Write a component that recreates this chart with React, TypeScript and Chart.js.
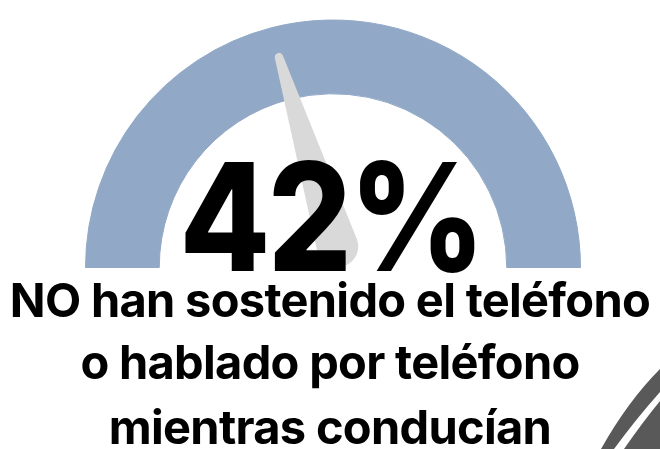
import React, { useEffect, useRef } from "react";
import { Chart, registerables } from "chart.js";

Chart.register(...registerables);

// ---- data ----
const gaugeLabels: string[] = ["NO han sostenido el teléfono", "Resto"];
const gaugeValues: number[] = [42, 58];
const headline = "42%";
const captionLines: string[] = [
  "NO han sostenido el teléfono",
  "o hablado por teléfono",
  "mientras conducían",
];

const GAUGE_COLOR = "#91A8C6";
const NEEDLE_COLOR = "#D9D9D9";
const ROAD_COLOR = "#595959";

const needlePlugin = {
  id: "gaugeNeedle",
  afterDatasetsDraw(chart: any) {
    const meta = chart.getDatasetMeta(0);
    const arc = meta.data[0];
    if (!arc) return;
    const { x: cx, y: cy, outerRadius: R } = arc.getProps(["x", "y", "outerRadius"], true);
    const data: number[] = chart.data.datasets[0].data;
    const total = data.reduce((a, b) => a + b, 0);
    const frac = data[0] / total;
    const angle = Math.PI + frac * Math.PI;
    const tipLen = 0.878 * R;
    const tx = cx + Math.cos(angle) * tipLen;
    const ty = cy + Math.sin(angle) * tipLen;
    const bx = cx + 0.018 * R;
    const by = cy - 0.085 * R;
    const br = 0.084 * R;
    const tr = 0.017 * R;
    const dx = tx - bx;
    const dy = ty - by;
    const d = Math.hypot(dx, dy);
    const theta = Math.atan2(dy, dx);
    const phi = Math.acos((br - tr) / d);
    const ctx = chart.ctx;
    ctx.save();
    ctx.fillStyle = NEEDLE_COLOR;
    ctx.beginPath();
    ctx.arc(bx, by, br, theta + phi, theta - phi + Math.PI * 2, false);
    ctx.arc(tx, ty, tr, theta - phi, theta + phi, false);
    ctx.closePath();
    ctx.fill();
    ctx.restore();
  },
};

const roadPlugin = {
  id: "roadDecoration",
  afterDraw(chart: any) {
    const ctx = chart.ctx;
    const W = chart.width;
    const H = chart.height;
    ctx.save();
    ctx.fillStyle = ROAD_COLOR;
    // outer stripe
    ctx.beginPath();
    ctx.moveTo(W - 59, H);
    ctx.quadraticCurveTo(W - 32, H - 48, W, H - 80);
    ctx.lineTo(W, H - 57);
    ctx.quadraticCurveTo(W - 24, H - 30, W - 46, H);
    ctx.closePath();
    ctx.fill();
    // road surface
    ctx.beginPath();
    ctx.moveTo(W - 36, H);
    ctx.quadraticCurveTo(W - 18, H - 26, W, H - 48);
    ctx.lineTo(W, H);
    ctx.closePath();
    ctx.fill();
    ctx.restore();
  },
};

export default function App() {
  const canvasRef = useRef<HTMLCanvasElement | null>(null);

  useEffect(() => {
    document.body.style.margin = "0";
    const canvas = canvasRef.current;
    if (!canvas) return;
    const chart = new Chart(canvas, {
      type: "doughnut",
      data: {
        labels: gaugeLabels,
        datasets: [
          {
            data: gaugeValues,
            backgroundColor: [GAUGE_COLOR, GAUGE_COLOR],
            borderColor: [GAUGE_COLOR, GAUGE_COLOR],
            borderWidth: 1,
            hoverOffset: 0,
          },
        ],
      },
      options: {
        animation: false,
        responsive: true,
        maintainAspectRatio: false,
        rotation: -90,
        circumference: 180,
        cutout: "70.2%",
        layout: { padding: { left: 84, right: 78, top: 19.5, bottom: 181 } },
        plugins: {
          legend: { display: false },
          tooltip: { enabled: false },
          title: { display: false },
        },
        events: [],
      },
      plugins: [needlePlugin, roadPlugin],
    });
    return () => chart.destroy();
  }, []);

  const captionStyle = (top: number): React.CSSProperties => ({
    position: "absolute",
    left: 0,
    width: 660,
    top,
    textAlign: "center",
    fontFamily: "Inter, 'Noto Sans', sans-serif",
    fontWeight: 700,
    fontSize: 47,
    lineHeight: "47px",
    letterSpacing: "-0.7px",
    color: "#000",
    whiteSpace: "nowrap",
  });

  return (
    <div
      style={{
        position: "absolute",
        left: 0,
        top: 0,
        width: 660,
        height: 449,
        overflow: "hidden",
        background: "#fff",
      }}
    >
      <canvas ref={canvasRef} style={{ position: "absolute", left: 0, top: 0, width: 660, height: 449 }} />
      <div
        style={{
          position: "absolute",
          left: 0,
          width: 660,
          top: 142,
          textAlign: "center",
          fontFamily: "Inter, 'Noto Sans', sans-serif",
          fontWeight: 800,
          fontSize: 150,
          lineHeight: "150px",
          letterSpacing: "-3px",
          color: "#000",
          whiteSpace: "nowrap",
          transform: "translateX(1px) scaleX(0.88)",
          transformOrigin: "330px 50%",
        }}
      >
        {headline}
      </div>
      <div style={captionStyle(276)}>{captionLines[0]}</div>
      <div style={captionStyle(338)}>{captionLines[1]}</div>
      <div style={captionStyle(403)}>{captionLines[2]}</div>
    </div>
  );
}
